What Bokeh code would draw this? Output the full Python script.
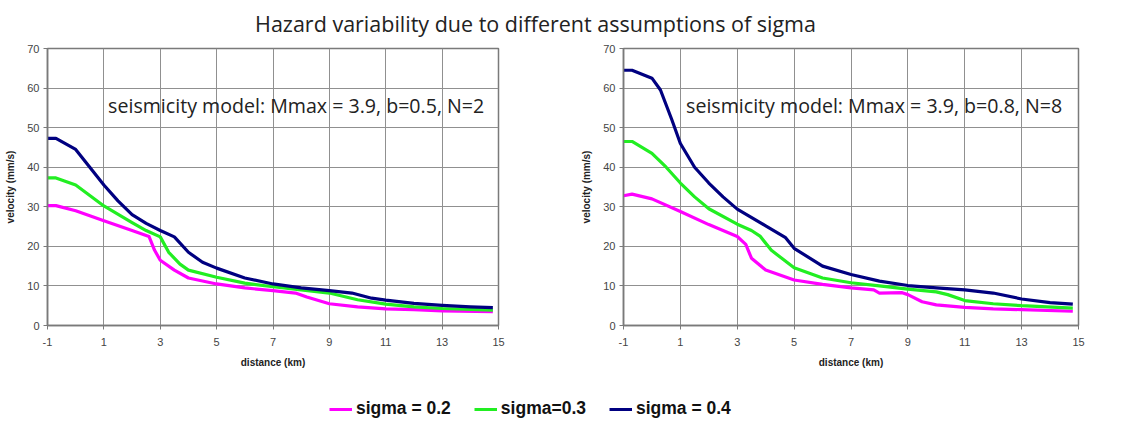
from bokeh.plotting import figure
from bokeh.layouts import column, row
from bokeh.models import FixedTicker, Range1d, Label, Legend, LegendItem
from bokeh.embed import file_html
from bokeh.resources import INLINE
from bokeh.core.properties import value

title_text = "Hazard variability due to different assumptions of sigma"
model_texts = ["seismicity model:  Mmax = 3.9, b=0.5, N=2",
               "seismicity model:  Mmax = 3.9, b=0.8, N=8"]
series_names = ["sigma = 0.2", "sigma=0.3", "sigma = 0.4"]
colors = ["#ff00ff", "#22ee22", "#000080"]
x_ticks = [-1, 1, 3, 5, 7, 9, 11, 13, 15]
x_tick_labels = ["-1", "1", "3", "5", "7", "9", "11", "13", "15"]
y_ticks = [0, 10, 20, 30, 40, 50, 60, 70]

# left panel (b=0.5, N=2)
L_s02_x = [-1, -0.7, 0, 1, 2, 2.6, 2.8, 3, 3.5, 4, 5, 6, 7, 7.8, 8.2, 9, 10, 11, 12, 13, 14.8]
L_s02_y = [30.3, 30.3, 29, 26.5, 24, 22.5, 19, 16.5, 14, 12, 10.5, 9.5, 8.8, 8.2, 7.2, 5.5, 4.7, 4.2, 4.0, 3.7, 3.5]
L_s03_x = [-1, -0.7, 0, 1, 2, 2.5, 3, 3.3, 3.7, 4, 5, 6, 7, 8, 9, 10, 11, 12, 13, 14.8]
L_s03_y = [37.3, 37.3, 35.5, 30.2, 26, 24, 22.4, 18.5, 15.5, 14, 12.2, 10.7, 9.8, 9.0, 8.2, 6.5, 5.4, 4.7, 4.3, 3.9]
L_s04_x = [-1, -0.7, 0, 0.5, 1, 1.5, 2, 2.5, 3, 3.5, 4, 4.5, 5, 6, 7, 8, 9, 9.8, 10.5, 11, 12, 13, 14, 14.8]
L_s04_y = [47.3, 47.3, 44.5, 40, 35.5, 31.5, 28, 25.8, 24, 22.4, 18.5, 16, 14.5, 12, 10.5, 9.5, 8.8, 8.2, 6.9, 6.4, 5.6, 5.1, 4.7, 4.5]

# right panel (b=0.8, N=8)
R_s02_x = [-1, -0.7, 0, 1, 2, 3, 3.3, 3.5, 4, 5, 6, 7, 7.8, 8, 8.8, 9, 9.5, 10, 11, 12, 13, 14.8]
R_s02_y = [32.8, 33.2, 32, 28.8, 25.5, 22.5, 20.5, 17, 14, 11.5, 10.4, 9.5, 9.0, 8.2, 8.3, 7.8, 6.0, 5.2, 4.6, 4.2, 4.0, 3.6]
R_s03_x = [-1, -0.7, 0, 0.5, 1, 1.5, 2, 3, 3.5, 3.8, 4.2, 5, 6, 7, 8, 9, 10, 10.4, 11, 12, 13, 14.8]
R_s03_y = [46.5, 46.5, 43.5, 40, 36, 32.5, 29.5, 25.6, 24, 22.6, 19, 14.6, 12, 10.8, 10, 9.2, 8.5, 7.8, 6.3, 5.5, 5.0, 4.4]
R_s04_x = [-1, -0.7, 0, 0.3, 0.7, 1, 1.5, 2, 2.5, 3, 4, 4.7, 5, 6, 7, 8, 9, 10, 11, 12, 13, 14, 14.8]
R_s04_y = [64.5, 64.5, 62.5, 59.5, 52, 46, 40, 36, 32.5, 29.4, 25.2, 22.2, 19.5, 15, 12.9, 11.2, 10.1, 9.5, 9.0, 8.2, 6.7, 5.8, 5.4]

left_series = [(L_s02_x, L_s02_y), (L_s03_x, L_s03_y), (L_s04_x, L_s04_y)]
right_series = [(R_s02_x, R_s02_y), (R_s03_x, R_s03_y), (R_s04_x, R_s04_y)]

panels = [
    dict(series=left_series, text=model_texts[0], width=572, bl=47, br=74, tx=1.15),
    dict(series=right_series, text=model_texts[1], width=573, bl=51, br=67, tx=1.2),
]

tick_font = "Liberation Sans"
figs = []
for pan in panels:
    p = figure(width=pan["width"], height=330, output_backend="svg", toolbar_location=None,
               x_range=Range1d(-1, 15), y_range=Range1d(0, 70),
               min_border_left=pan["bl"], min_border_right=pan["br"],
               min_border_top=8, min_border_bottom=44)
    p.background_fill_color = "white"
    p.border_fill_color = "white"
    p.outline_line_color = "#7a7a7a"
    p.outline_line_width = 1.5
    p.xaxis.ticker = FixedTicker(ticks=x_ticks)
    p.yaxis.ticker = FixedTicker(ticks=y_ticks)
    p.xaxis.major_label_overrides = {t: s for t, s in zip(x_ticks, x_tick_labels)}
    for ax in [p.xaxis[0], p.yaxis[0]]:
        ax.axis_line_color = "#7a7a7a"
        ax.axis_line_width = 1.5
        ax.major_tick_line_color = "#7a7a7a"
        ax.major_tick_out = 4
        ax.major_tick_in = 0
        ax.minor_tick_line_color = None
        ax.major_label_text_font = tick_font
        ax.major_label_text_font_size = "11px"
        ax.major_label_text_color = "#444444"
        ax.axis_label_text_font = tick_font
        ax.axis_label_text_font_size = "10px"
        ax.axis_label_text_font_style = "bold"
        ax.axis_label_text_color = "#222222"
    p.xaxis.axis_label = "distance (km)"
    p.yaxis.axis_label = "velocity (mm/s)"
    p.xaxis.major_label_standoff = 8
    p.xaxis.axis_label_standoff = 8
    p.yaxis.major_label_standoff = 4
    p.yaxis.axis_label_standoff = 8
    p.xgrid.grid_line_color = "#909090"
    p.ygrid.grid_line_color = "#909090"
    p.xgrid.grid_line_width = 1
    p.ygrid.grid_line_width = 1
    for (xs, ys), c in zip(pan["series"], colors):
        p.line(xs, ys, line_color=c, line_width=3.2, line_join="round")
    p.add_layout(Label(x=pan["tx"], y=55.5, text=pan["text"], text_font="Open Sans",
                       text_font_size="19.6px", text_color="#222222", text_baseline="middle"))
    figs.append(p)

# title figure
tf = figure(width=1145, height=40, output_backend="svg", toolbar_location=None,
            x_range=Range1d(0, 1145), y_range=Range1d(0, 40),
            min_border=0)
tf.axis.visible = False
tf.grid.visible = False
tf.outline_line_color = None
tf.text(x=[535], y=[17], text=[title_text], text_font=value("Open Sans"), text_font_size="21.5px",
        text_align="center", text_baseline="middle", text_color="#222222")

# legend figure: series drawn outside the visible range, only their legend glyphs show
lf = figure(width=1145, height=58, output_backend="svg", toolbar_location=None,
            x_range=Range1d(100, 101), y_range=Range1d(100, 101), min_border=0)
lf.axis.visible = False
lf.grid.visible = False
lf.outline_line_color = None
items = []
for name, c, (xs, ys) in zip(series_names, colors, left_series):
    r = lf.line(xs, ys, line_color=c, line_width=3)
    items.append(LegendItem(label=name, renderers=[r]))
leg = Legend(items=items, orientation="horizontal", location=(329, 9),
             padding=0, margin=0, spacing=23, label_standoff=4,
             glyph_width=23, glyph_height=20, label_height=20,
             label_text_font=tick_font, label_text_font_size="17.5px",
             label_text_font_style="bold", label_text_color="#111111",
             border_line_color=None, background_fill_alpha=0)
lf.add_layout(leg)

layout = column(tf, row(figs[0], figs[1]), lf)
open("out.html", "w").write(file_html(layout, INLINE))
